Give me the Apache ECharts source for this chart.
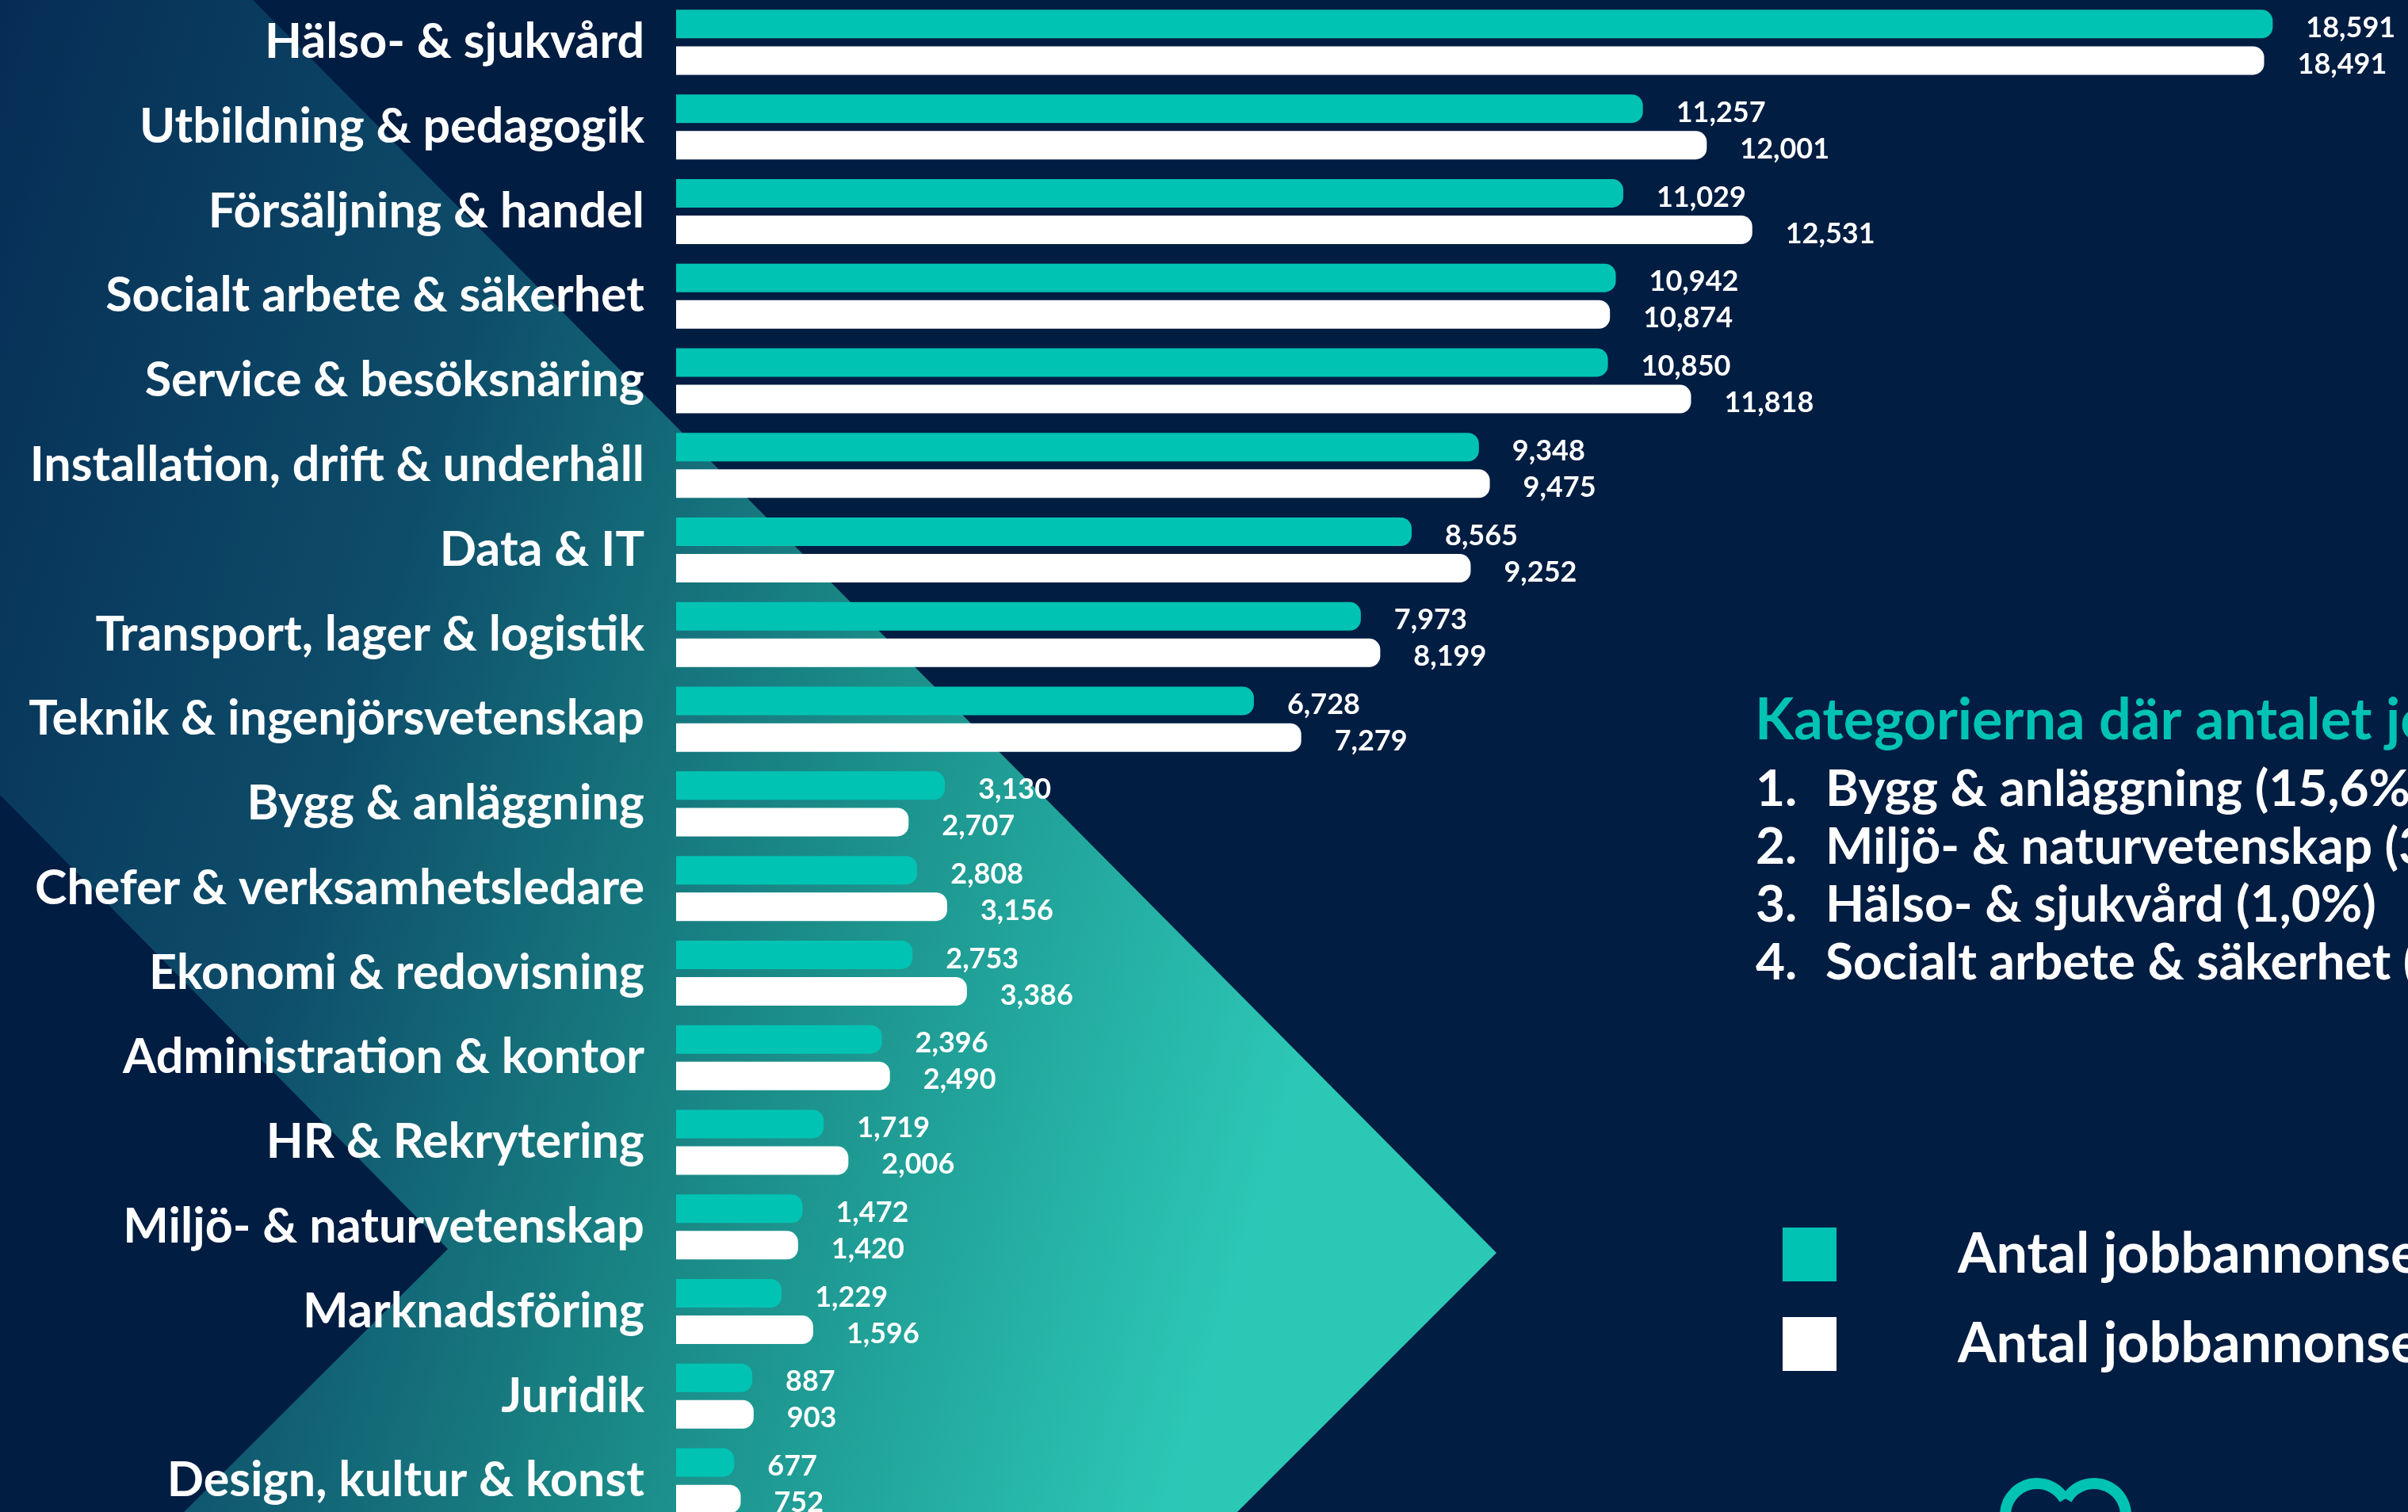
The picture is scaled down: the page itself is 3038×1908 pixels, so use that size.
<!DOCTYPE html>
<html>
<head>
<meta charset="utf-8">
<script src="https://cdn.jsdelivr.net/npm/echarts@6/dist/echarts.min.js"></script>
<style>
  html, body { margin: 0; padding: 0; background: #011d42; }
  #chart { width: 3038px; height: 1908px; }
</style>
</head>
<body>
<div id="chart"></div>
<script>
// kategorier (uppifrån och ned)
const categories = [
  "Hälso- & sjukvård",
  "Utbildning & pedagogik",
  "Försäljning & handel",
  "Socialt arbete & säkerhet",
  "Service & besöksnäring",
  "Installation, drift & underhåll",
  "Data & IT",
  "Transport, lager & logistik",
  "Teknik & ingenjörsvetenskap",
  "Bygg & anläggning",
  "Chefer & verksamhetsledare",
  "Ekonomi & redovisning",
  "Administration & kontor",
  "HR & Rekrytering",
  "Miljö- & naturvetenskap",
  "Marknadsföring",
  "Juridik",
  "Design, kultur & konst",
];
// turkosa staplar
const currentAds = [18591, 11257, 11029, 10942, 10850, 9348, 8565, 7973, 6728, 3130, 2808, 2753, 2396, 1719, 1472, 1229, 887, 677];
// vita staplar
const previousAds = [18491, 12001, 12531, 10874, 11818, 9475, 9252, 8199, 7279, 2707, 3156, 3386, 2490, 2006, 1420, 1596, 903, 752];
const seriesNames = ["Antal jobbannonser 2024", "Antal jobbannonser 2023"];

const listTitle = "Kategorierna där antalet jobbannonser ökat mest";
const topList = [
  "Bygg & anläggning (15,6%)",
  "Miljö- & naturvetenskap (3,7%)",
  "Hälso- & sjukvård (1,0%)",
  "Socialt arbete & säkerhet (0,6%)",
];

const TEAL = "#00c3b3";
const NAVY = "#011d42";
const FONT = "Lato";

const chart = echarts.init(document.getElementById("chart"));

const valueLabel = {
  show: true,
  position: "right",
  distance: 42,
  offset: [0, 5],
  color: "#ffffff",
  fontFamily: FONT,
  fontWeight: "bold",
  fontSize: 36,
  formatter: (p) => p.value.toLocaleString("en-US"),
};

// bakgrundens chevron-form
const bandPoints = [
  [0, 0], [319, 0], [1888, 1581], [1561, 1908],
  [232, 1908], [565, 1576], [0, 1003],
];

const graphic = [
  {
    type: "polygon",
    z: -10,
    shape: { points: bandPoints },
    style: {
      fill: {
        type: "linear", x: 0, y: 0, x2: 1, y2: 0.3,
        colorStops: [
          { offset: 0, color: "#062c55" },
          { offset: 0.35, color: "#0e4d6a" },
          { offset: 0.65, color: "#1a8a87" },
          { offset: 1, color: "#2cc8b6" },
        ],
      },
    },
  },
  {
    type: "text",
    x: 2214,
    y: 910,
    style: {
      text: listTitle,
      fill: TEAL,
      font: "bold 72px " + FONT,
      verticalAlign: "middle",
    },
  },
];

topList.forEach((item, i) => {
  const y = 996 + i * 73;
  graphic.push({
    type: "text", x: 2215, y: y,
    style: { text: i + 1 + ".", fill: "#fff", font: "bold 64px " + FONT, verticalAlign: "middle" },
  });
  graphic.push({
    type: "text", x: 2303, y: y,
    style: { text: item, fill: "#fff", font: "bold 64px " + FONT, verticalAlign: "middle" },
  });
});

// logga längst ned
graphic.push({
  type: "arc",
  shape: { cx: 2570, cy: 1912, r: 40, startAngle: Math.PI, endAngle: (11 * Math.PI) / 6 },
  style: { stroke: TEAL, lineWidth: 14, fill: null },
});
graphic.push({
  type: "arc",
  shape: { cx: 2642, cy: 1912, r: 40, startAngle: (7 * Math.PI) / 6, endAngle: 2 * Math.PI },
  style: { stroke: TEAL, lineWidth: 14, fill: null },
});

const option = {
  backgroundColor: NAVY,
  animation: false,
  graphic: graphic,
  legend: {
    orient: "vertical",
    left: 2244,
    top: 1543,
    icon: "rect",
    itemWidth: 68,
    itemHeight: 68,
    itemGap: 43,
    selectedMode: false,
    data: seriesNames,
    formatter: (name) => "{s|}" + name,
    textStyle: {
      color: "#ffffff",
      fontFamily: FONT,
      fontWeight: "bold",
      fontSize: 70,
      rich: { s: { width: 148 } },
    },
  },
  grid: {
    left: 853,
    right: 18,
    top: 0,
    height: 1922,
    containLabel: false,
    outerBoundsMode: "none",
  },
  xAxis: {
    type: "value",
    min: 0,
    max: 20000,
    show: false,
  },
  yAxis: {
    type: "category",
    inverse: true,
    data: categories,
    axisLine: { show: false },
    axisTick: { show: false },
    axisLabel: {
      margin: 40,
      color: "#ffffff",
      fontFamily: FONT,
      fontWeight: "bold",
      fontSize: 61,
      padding: [8, 0, 0, 0],
    },
  },
  series: [
    {
      name: seriesNames[0],
      type: "bar",
      data: currentAds,
      barWidth: 36,
      barGap: "28%",
      itemStyle: { color: TEAL, borderRadius: [0, 14, 14, 0] },
      label: valueLabel,
    },
    {
      name: seriesNames[1],
      type: "bar",
      data: previousAds,
      barWidth: 36,
      itemStyle: { color: "#ffffff", borderRadius: [0, 14, 14, 0] },
      label: valueLabel,
    },
  ],
};

chart.setOption(option);
</script>
</body>
</html>
